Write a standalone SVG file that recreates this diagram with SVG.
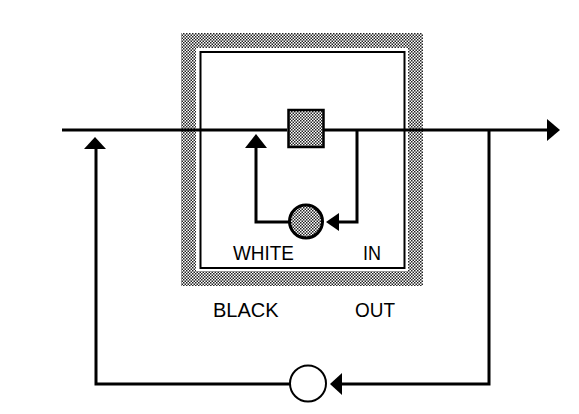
<svg xmlns="http://www.w3.org/2000/svg" width="579" height="414" viewBox="0 0 579 414">
<defs>
<pattern id="stip" width="3" height="3" patternUnits="userSpaceOnUse">
<rect width="3" height="3" fill="#fff"/>
<rect x="0" y="0" width="1.5" height="1.5" fill="#222"/>
<rect x="1.5" y="1.5" width="1.5" height="1.5" fill="#222"/>
</pattern>
<style>
.ln{fill:none;stroke:#000;stroke-width:3;stroke-linejoin:miter}
.ah{fill:#000}
.lbl{font-family:"Liberation Sans",Arial,sans-serif;font-size:20px;fill:#000}
</style>
</defs>
<rect width="579" height="414" fill="#fff"/>
<g id="black-box">
<rect x="181" y="33" width="242" height="253" fill="url(#stip)"/>
<rect x="196" y="48" width="212" height="223" fill="#fff"/>
<rect x="200.5" y="52" width="204" height="216" fill="none" stroke="#000" stroke-width="2"/>
</g>
<g id="connectors">
<path class="ln" d="M62,130 H287"/>
<path class="ln" d="M323,130 H548"/>
<polygon class="ah" points="560,130 547,119 547,141"/>
<path class="ln" d="M357,130 V222 H338"/>
<polygon class="ah" points="326,222 339,213 339,231"/>
<path class="ln" d="M289,222 H256 V146"/>
<polygon class="ah" points="256,134 245,148 267,148"/>
<path class="ln" d="M489,130 V384 H341"/>
<polygon class="ah" points="330,384 342,373 342,395"/>
<path class="ln" d="M290,384 H96 V147"/>
<polygon class="ah" points="95,137 84,149 106,149"/>
</g>
<g id="white-box">
<rect x="288.5" y="110" width="35" height="37" fill="url(#stip)" stroke="#000" stroke-width="2.5"/>
</g>
<g id="inner-circle">
<circle cx="306" cy="221.5" r="16.5" fill="url(#stip)" stroke="#000" stroke-width="3"/>
</g>
<g id="outer-circle">
<circle cx="308" cy="383.5" r="18" fill="#fff" stroke="#000" stroke-width="2"/>
</g>
<g id="labels">
<text class="lbl" x="233" y="260" textLength="61" lengthAdjust="spacingAndGlyphs" style="font-size:21px">WHITE</text>
<text class="lbl" x="363" y="260" textLength="18" lengthAdjust="spacingAndGlyphs" style="font-size:21px">IN</text>
<text class="lbl" x="213" y="317">BLACK</text>
<text class="lbl" x="355" y="317" textLength="40" lengthAdjust="spacingAndGlyphs">OUT</text>
</g>
</svg>
